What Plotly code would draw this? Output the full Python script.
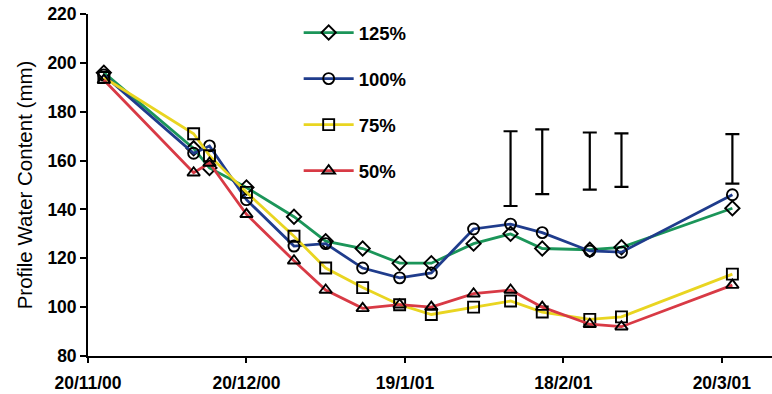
import plotly.graph_objects as go

# Sampling dates (dd/mm/yy)
dates = ["2000-11-23", "2000-12-10", "2000-12-13", "2000-12-20", "2000-12-29",
         "2001-01-04", "2001-01-11", "2001-01-18", "2001-01-24", "2001-02-01",
         "2001-02-08", "2001-02-14", "2001-02-23", "2001-03-01", "2001-03-22"]

# Profile water content (mm) for each irrigation treatment
pwc_125 = [196, 165, 157, 149, 137, 127, 124, 118, 118, 126, 130, 124, 123.5, 124.5, 140.5]
pwc_100 = [195, 163, 166, 144, 125, 126, 116, 112, 114, 132, 134, 130.5, 123, 122.5, 146]
pwc_75 = [194, 171, 162, 147, 129, 116, 108, 101, 97, 100, 102.5, 98, 95, 96, 113.5]
pwc_50 = [193, 155, 159, 138, 119, 107, 99.5, 101, 100, 105.5, 107, 100, 93, 92, 109]

# LSD bars: dates and their lower / upper ends (mm)
lsd_dates = ["2001-02-08", "2001-02-14", "2001-02-23", "2001-03-01", "2001-03-22"]
lsd_low = [141.4, 146.3, 148.1, 149.2, 150.6]
lsd_high = [172.0, 172.8, 171.5, 171.1, 170.8]

# Axis ticks
x_tickvals = ["2000-11-20", "2000-12-20", "2001-01-19", "2001-02-18", "2001-03-20"]
x_ticktext = ["20/11/00", "20/12/00", "19/1/01", "18/2/01", "20/3/01"]
y_tickvals = [80, 100, 120, 140, 160, 180, 200, 220]

series = [
    ("125%", pwc_125, "#1b9559", "diamond-open"),
    ("100%", pwc_100, "#1f3c8c", "circle-open"),
    ("75%", pwc_75, "#e9d521", "square-open"),
    ("50%", pwc_50, "#d83a45", "triangle-up-open"),
]

fig = go.Figure()

for i, (name, vals, color, sym) in enumerate(series):
    fig.add_trace(go.Scatter(
        x=dates, y=vals, name=name, mode="lines+markers",
        legendgroup=f"g{i}",
        line=dict(color=color, width=2.8),
        marker=dict(symbol=sym, size=11, color="black",
                    line=dict(color="black", width=1.9)),
    ))

centers = [(lo + hi) / 2 for lo, hi in zip(lsd_low, lsd_high)]
halves = [(hi - lo) / 2 for lo, hi in zip(lsd_low, lsd_high)]
fig.add_trace(go.Scatter(
    x=lsd_dates, y=centers, mode="markers", showlegend=False,
    marker=dict(size=1, color="rgba(0,0,0,0)"),
    error_y=dict(type="data", array=halves, visible=True,
                 color="black", thickness=2.2, width=7),
    hoverinfo="skip",
))

tick_font = dict(family="Liberation Sans", size=17.5, color="black", weight="bold")

fig.update_layout(
    width=772, height=394,
    margin=dict(l=88, r=0, t=14, b=38),
    paper_bgcolor="white", plot_bgcolor="white",
    showlegend=True,
    legend=dict(
        x=0.308, y=1.0, xanchor="left", yanchor="top",
        bgcolor="rgba(0,0,0,0)",
        font=dict(family="Liberation Sans", size=18.5, color="black", weight="bold"),
        tracegroupgap=19, itemwidth=50,
    ),
    xaxis=dict(
        type="date",
        range=["2000-11-20", "2001-03-29 12:00"],
        tickvals=x_tickvals, ticktext=x_ticktext,
        tickfont=tick_font,
        ticks="outside", ticklen=5, tickwidth=1.5, tickcolor="black",
        showline=True, linecolor="black", linewidth=1.8,
        showgrid=False, zeroline=False,
        ticklabelstandoff=5,
    ),
    yaxis=dict(
        range=[80, 220],
        tickvals=y_tickvals,
        tickfont=tick_font,
        ticks="outside", ticklen=6, tickwidth=1.5, tickcolor="black",
        showline=True, linecolor="black", linewidth=1.8,
        showgrid=False, zeroline=False,
        title=dict(text="Profile Water Content (mm)",
                   font=dict(family="Liberation Sans", size=20.5, color="black"),
                   standoff=9),
    ),
)

fig.write_html("out.html")
